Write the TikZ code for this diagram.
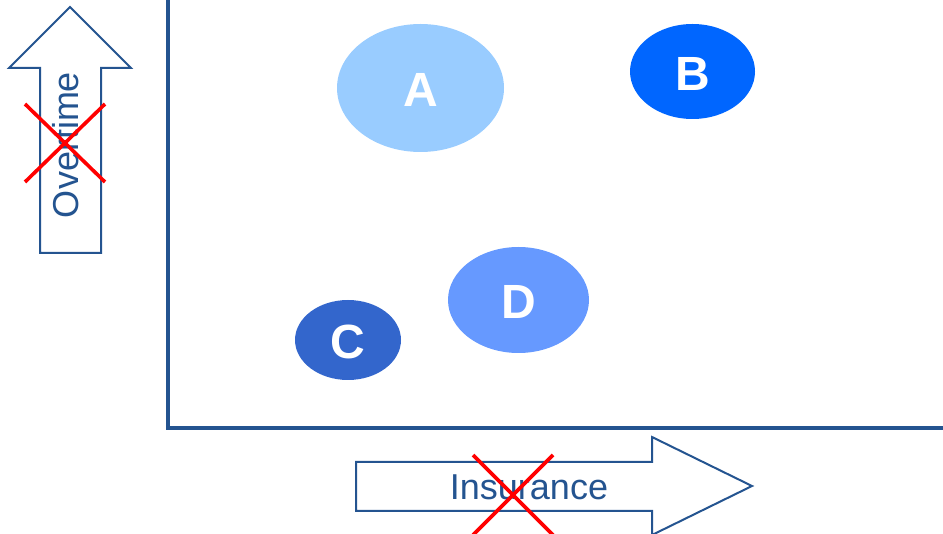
\documentclass[tikz,border=0pt]{standalone}
\usepackage{fontspec}
\setmainfont{Liberation Sans}
\definecolor{axisblue}{RGB}{36,84,144}
\definecolor{crossred}{RGB}{255,0,0}
\definecolor{pastelA}{RGB}{153,204,255}
\definecolor{brightB}{RGB}{0,102,255}
\definecolor{deepC}{RGB}{51,102,204}
\definecolor{midD}{RGB}{102,153,255}
\tikzset{
  blockarrow/.style={draw=axisblue, line width=2pt, fill=white, line join=miter},
  axislabel/.style={text=axisblue, inner sep=0pt, font=\fontsize{36}{40}\selectfont},
  cross/.style={draw=crossred, line width=3.6pt},
  blob/.style={ellipse, draw=none, inner sep=0pt, text=white, font=\fontsize{48}{52}\selectfont\bfseries}
}
\usetikzlibrary{shapes.geometric}
\begin{document}
\begin{tikzpicture}[x=1pt, y=-1pt]
  \useasboundingbox (0,0) rectangle (943,534);

  % axes
  \draw[axisblue, line width=3.2pt] (168,-5) -- (168,428) -- (950,428);

  % block arrows
  \draw[blockarrow] (40,253) -- (40,68) -- (9,68) -- (70,7) -- (131,68) -- (101,68) -- (101,253) -- cycle;
  \draw[blockarrow] (356,462) -- (652,462) -- (652,437) -- (752,486) -- (652,535) -- (652,511) -- (356,511) -- cycle;

  \node[axislabel, rotate=90] (overtime) at (66,145) {Overtime};
  \node[axislabel] (insurance) at (529,487) {Insurance};

  % crossed out
  \draw[cross] (25,104) -- (105,182);
  \draw[cross] (105,104) -- (25,182);
  \draw[cross] (473,455) -- (553,535);
  \draw[cross] (553,455) -- (473,535);

  % groups
  \foreach \name/\cx/\cy/\rx/\ry/\col in {A/420.5/88/83.5/64/pastelA, B/692.5/71.5/62.5/47.5/brightB, C/348/340/53/40/deepC, D/518.5/300/70.5/53/midD} {
    \fill[\col] (\cx,\cy) ellipse [x radius=\rx, y radius=\ry];
    \node[blob] (\name) at (\cx,\cy+2) {\name};
  }
\end{tikzpicture}
\end{document}
